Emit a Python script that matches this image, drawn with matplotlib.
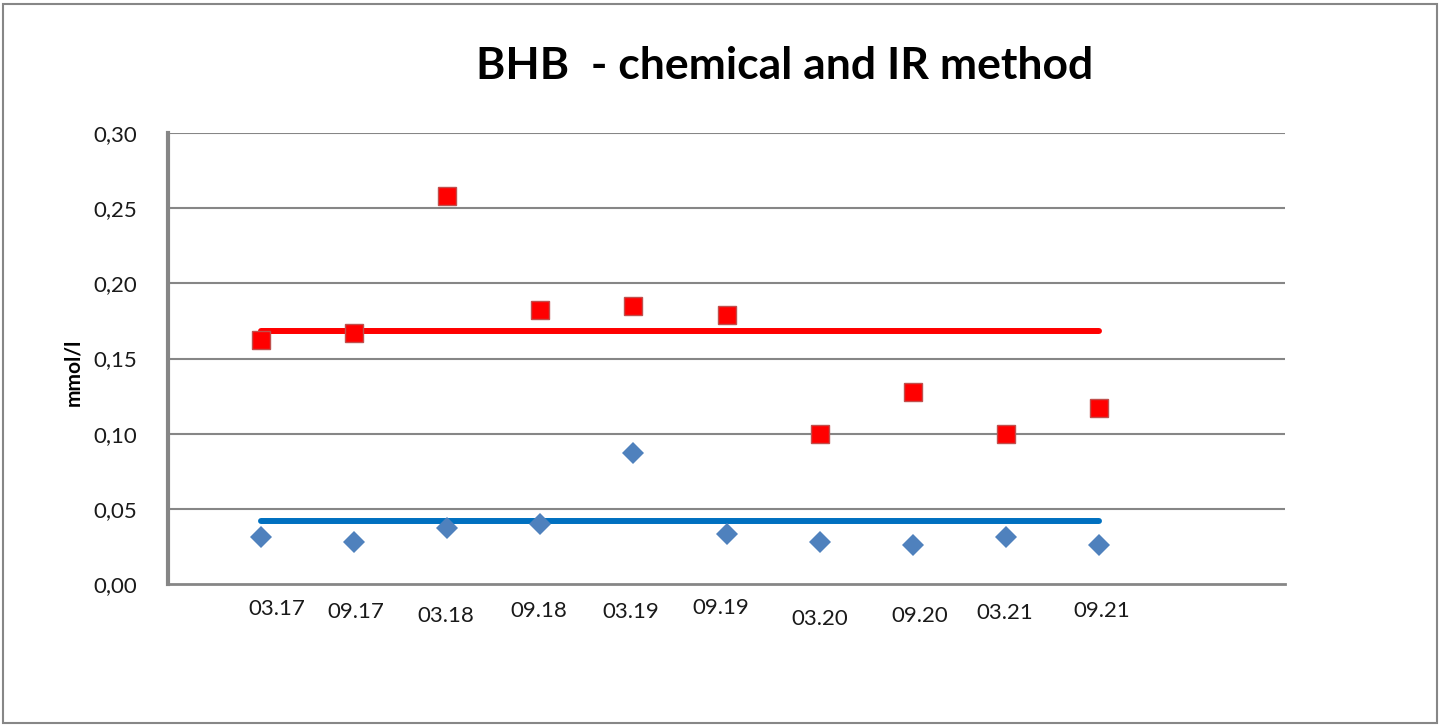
import matplotlib
matplotlib.use("Agg")
import matplotlib.pyplot as plt
from matplotlib.patches import Rectangle
from matplotlib.transforms import blended_transform_factory

# Sampling dates and measured BHB values (mmol/l)
dates = ["03.17", "09.17", "03.18", "09.18", "03.19", "09.19", "03.20", "09.20", "03.21", "09.21"]
ir_values = [0.162, 0.167, 0.258, 0.182, 0.185, 0.179, 0.100, 0.128, 0.100, 0.117]
chem_values = [0.031, 0.028, 0.037, 0.040, 0.087, 0.033, 0.028, 0.026, 0.031, 0.026]
ir_mean = 0.168
chem_mean = 0.042
y_ticks = [0.00, 0.05, 0.10, 0.15, 0.20, 0.25, 0.30]

# label placement (the labels sit a little off the points, like in the source)
label_dx = [0.17, 0.02, -0.02, -0.02, -0.03, -0.06, 0.0, 0.08, -0.01, 0.03]
label_y = [609, 612, 616, 611, 612, 608, 619, 616, 613, 611]

plt.rcParams["font.family"] = ["Lato", "DejaVu Sans"]

W, H = 1441, 727
fig = plt.figure(figsize=(W / 100, H / 100), dpi=100)
fig.patch.set_facecolor("white")
fig.patches.append(Rectangle((3 / W, 4 / H), 1434 / W, 719 / H, transform=fig.transFigure,
                             fill=False, edgecolor="#878787", linewidth=1.5))

ax = fig.add_axes([168 / W, 1 - 584 / H, (1285 - 168) / W, (584 - 133) / H])
x = list(range(1, len(dates) + 1))

for t in y_ticks[1:]:
    ax.axhline(t, color="#868686", linewidth=1.5, zorder=1)

ax.plot([x[0], x[-1]], [ir_mean, ir_mean], color="#FF0000", linewidth=4.3,
        solid_capstyle="round", zorder=2)
ax.plot([x[0], x[-1]], [chem_mean, chem_mean], color="#0070C0", linewidth=4.3,
        solid_capstyle="round", zorder=2)
ax.plot(x, ir_values, "s", color="#FF0000", markersize=13.5, markeredgecolor="#C0504D",
        markeredgewidth=1, zorder=3)
ax.plot(x, chem_values, "D", color="#4F81BD", markersize=11.5, markeredgewidth=0, zorder=3)

ax.set_xlim(0, 12)
ax.set_ylim(0, 0.30)
ax.set_yticks(y_ticks)
ax.set_yticklabels([f"{t:.2f}".replace(".", ",") for t in y_ticks], fontsize=16, color="#1a1a1a")
ax.tick_params(axis="y", length=0, pad=22)
ax.set_xticks([])
for s in ["top", "right"]:
    ax.spines[s].set_visible(False)
ax.spines["left"].set_color("#868686")
ax.spines["left"].set_linewidth(3)
ax.spines["bottom"].set_color("#868686")
ax.spines["bottom"].set_linewidth(2)

trans = blended_transform_factory(ax.transData, fig.transFigure)
for xi, lab, dx, yp in zip(x, dates, label_dx, label_y):
    ax.text(xi + dx, 1 - yp / H, lab, transform=trans,
            ha="center", va="center", fontsize=16, color="#1a1a1a")

fig.text(73 / W, 1 - 372 / H, "mmol/l", rotation=90, ha="center", va="center",
         fontsize=15, fontweight="bold")
fig.text(785 / W, 1 - 66 / H, "BHB  - chemical and IR method", ha="center", va="center",
         fontsize=32, fontweight="bold")

fig.savefig("out.png", dpi=100)
